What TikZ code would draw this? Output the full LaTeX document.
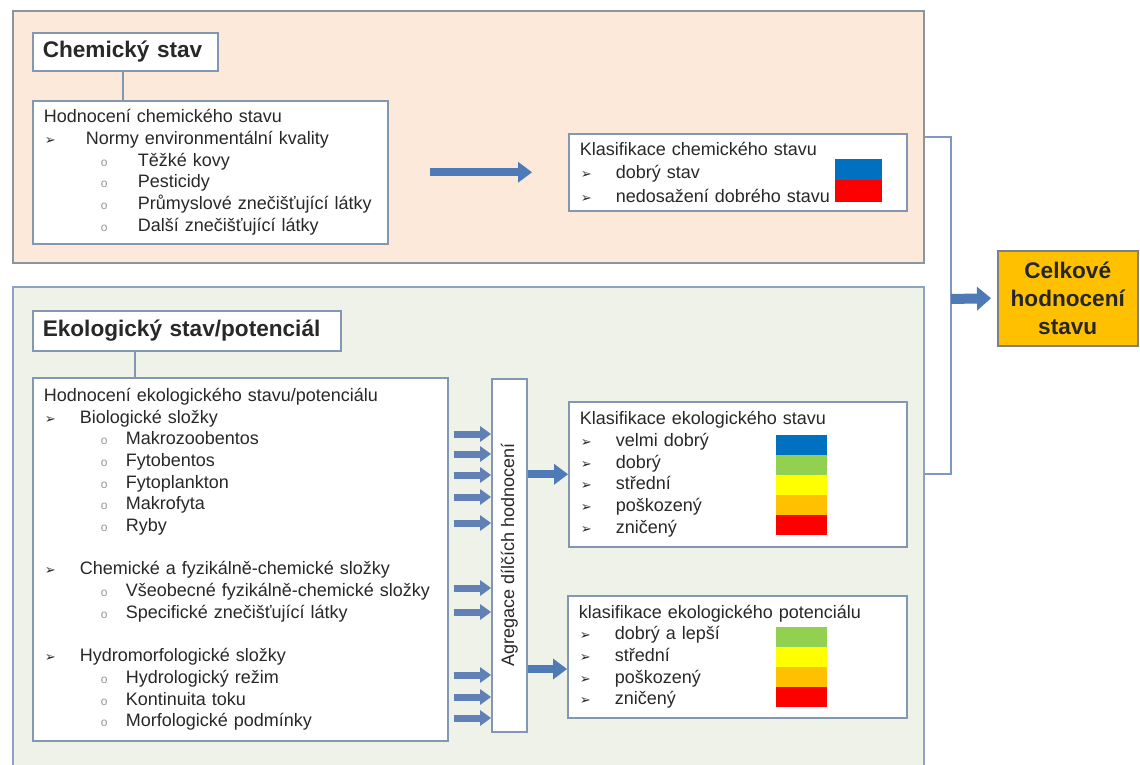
\documentclass[tikz,border=0pt]{standalone}
\usepackage{fontspec}
\setmainfont{Liberation Sans}
\newfontfamily\dejavu{DejaVu Sans}
\usepackage{xcolor}
\usetikzlibrary{arrows.meta, positioning, calc}
\definecolor{peachbg}{RGB}{252,233,217}
\definecolor{sagebg}{RGB}{238,242,232}
\definecolor{panelgray}{RGB}{138,148,162}
\definecolor{panelblue}{RGB}{143,162,192}
\definecolor{boxline}{RGB}{132,151,178}
\definecolor{bracketblue}{RGB}{126,152,196}
\definecolor{arrowblue}{RGB}{79,122,184}
\definecolor{smallblue}{RGB}{96,128,182}
\definecolor{dotgray}{RGB}{150,150,150}
\definecolor{textgray}{RGB}{40,40,40}
\definecolor{statusblue}{RGB}{0,112,192}
\definecolor{statusgreen}{RGB}{146,208,80}
\definecolor{statusyellow}{RGB}{255,255,0}
\definecolor{statusorange}{RGB}{255,192,0}
\definecolor{statusred}{RGB}{255,0,0}
\definecolor{totalgold}{RGB}{255,192,0}

\newcommand{\bodyfont}{\fontsize{18}{21.7}\selectfont}
\newcommand{\headfont}{\fontsize{22.6}{28}\selectfont\bfseries}
\newcommand{\arrbullet}{{\dejavu\fontsize{13}{13}\selectfont ➢}}
\newcommand{\lvlone}[2][36pt]{\makebox[#1][l]{\hspace*{1pt}\arrbullet}#2}
\newcommand{\lvltwo}[2][25pt]{\hspace*{57pt}\makebox[#1][l]{\textcolor{dotgray}{\fontsize{12}{12}\selectfont o}}#2}

\begin{document}
\begin{tikzpicture}[x=1pt, y=-1pt,
    panel/.style={line width=2pt, anchor=north west, inner sep=0pt},
    headbox/.style={draw=boxline, fill=white, line width=1.6pt, anchor=north west,
                    inner xsep=10pt, align=left, font=\headfont, text=textgray},
    infobox/.style={draw=boxline, fill=white, line width=1.6pt, anchor=north west,
                    inner xsep=11pt, inner ysep=0pt, align=left, font=\bodyfont, text=textgray},
    link/.style={draw=boxline, line width=1.6pt},
    bigarrow/.style={draw=arrowblue, line width=8pt,
                     -{Triangle[width=21pt, length=14pt, line width=0pt]}},
    smallarrow/.style={draw=smallblue, line width=7pt,
                       -{Triangle[width=16pt, length=11pt, line width=0pt]}}]

    \useasboundingbox (0,0) rectangle (1140,765);

    % Two background panels
    \node[panel, fill=peachbg, draw=panelgray, minimum width=911pt, minimum height=252pt]
        (chempanel) at (12,10) {};
    \node[panel, fill=sagebg, draw=panelblue, minimum width=911pt, minimum height=490pt]
        (ecopanel) at (12,286) {};

    % Chemical status
    \node[headbox, text width=165pt, minimum height=38pt] (chemhead) at (32,32) {Chemický stav};
    \node[infobox, text width=333pt, minimum height=143pt] (chemlist) at (32,100) {%
        Hodnocení chemického stavu\\
        \lvlone[42pt]{Normy environmentální kvality}\\
        \lvltwo[37pt]{Těžké kovy}\\
        \lvltwo[37pt]{Pesticidy}\\
        \lvltwo[37pt]{Průmyslové znečišťující látky}\\
        \lvltwo[37pt]{Další znečišťující látky}};
    \draw[link] (chemhead.south -| 123,0) -- (chemlist.north -| 123,0);

    \node[infobox, text width=316pt, minimum height=77pt, font=\fontsize{18}{23.5}\selectfont]
        (chemclass) at (568,133) {%
        Klasifikace chemického stavu\\
        \lvlone{dobrý stav}\\
        \lvlone{nedosažení dobrého stavu}};
    \fill[statusblue] (835,159) rectangle (882,180);
    \fill[statusred] (835,180) rectangle (882,202);

    \draw[bigarrow] ($(chemlist.east)+(41,0)$) -- ($(chemclass.west)+(-36,0)$);

    % Ecological status / potential
    \node[headbox, text width=288pt, minimum height=40pt] (ecohead) at (32,310) {Ekologický stav/potenciál};
    \node[infobox, text width=393pt, minimum height=363pt] (ecolist) at (32,377) {%
        Hodnocení ekologického stavu/potenciálu\\
        \lvlone{Biologické složky}\\
        \lvltwo{Makrozoobentos}\\
        \lvltwo{Fytobentos}\\
        \lvltwo{Fytoplankton}\\
        \lvltwo{Makrofyta}\\
        \lvltwo{Ryby}\\[21.7pt]
        \lvlone{Chemické a fyzikálně-chemické složky}\\
        \lvltwo{Všeobecné fyzikálně-chemické složky}\\
        \lvltwo{Specifické znečišťující látky}\\[21.7pt]
        \lvlone{Hydromorfologické složky}\\
        \lvltwo{Hydrologický režim}\\
        \lvltwo{Kontinuita toku}\\
        \lvltwo{Morfologické podmínky}};
    \draw[link] (ecohead.south -| 135,0) -- (ecolist.north -| 135,0);

    \node[infobox, inner xsep=0pt, minimum width=35pt, minimum height=353pt] (agg) at (491,378)
        {\rotatebox{90}{Agregace dílčích hodnocení}};

    \foreach \y in {434,454,475,497,523,588,612,675,697,718}
        \draw[smallarrow] ($(ecolist.east |- 0,\y)+(5,0)$) -- (agg.west |- 0,\y);

    \node[infobox, text width=316pt, minimum height=145pt] (ecoclass) at (568,401) {%
        Klasifikace ekologického stavu\\
        \lvlone{velmi dobrý}\\
        \lvlone{dobrý}\\
        \lvlone{střední}\\
        \lvlone{poškozený}\\
        \lvlone{zničený}};
    \foreach \c [count=\i] in {statusblue,statusgreen,statusyellow,statusorange,statusred}
        \fill[\c] (776,{435+20*(\i-1)}) rectangle ++(51,20);

    \node[infobox, text width=317pt, minimum height=122pt] (potclass) at (567,595) {%
        klasifikace ekologického potenciálu\\
        \lvlone{dobrý a lepší}\\
        \lvlone{střední}\\
        \lvlone{poškozený}\\
        \lvlone{zničený}};
    \foreach \c [count=\i] in {statusgreen,statusyellow,statusorange,statusred}
        \fill[\c] (776,{627+20*(\i-1)}) rectangle ++(51,20);

    \draw[bigarrow] (agg.east |- ecoclass.west) -- (ecoclass.west);
    \draw[bigarrow] (agg.east |- 0,669) -- (potclass.west |- 0,669);

    % Overall assessment
    \node[draw=black!50, fill=totalgold, line width=1.5pt, anchor=north west, align=center,
          minimum width=140pt, minimum height=95pt, font=\headfont, text=black!85]
        (total) at (997,250) {Celkové\\hodnocení\\stavu};

    \coordinate (join) at (951,299);
    \draw[draw=bracketblue, line width=2pt] (chempanel.east |- 0,137) -- (951,137)
        -- (951,474) -- (ecopanel.east |- 0,474);
    \draw[bigarrow, line width=10pt, -{Triangle[width=24pt, length=14pt, line width=0pt]}]
        (join) -- ($(total.west)+(-6,0)$);
\end{tikzpicture}
\end{document}
